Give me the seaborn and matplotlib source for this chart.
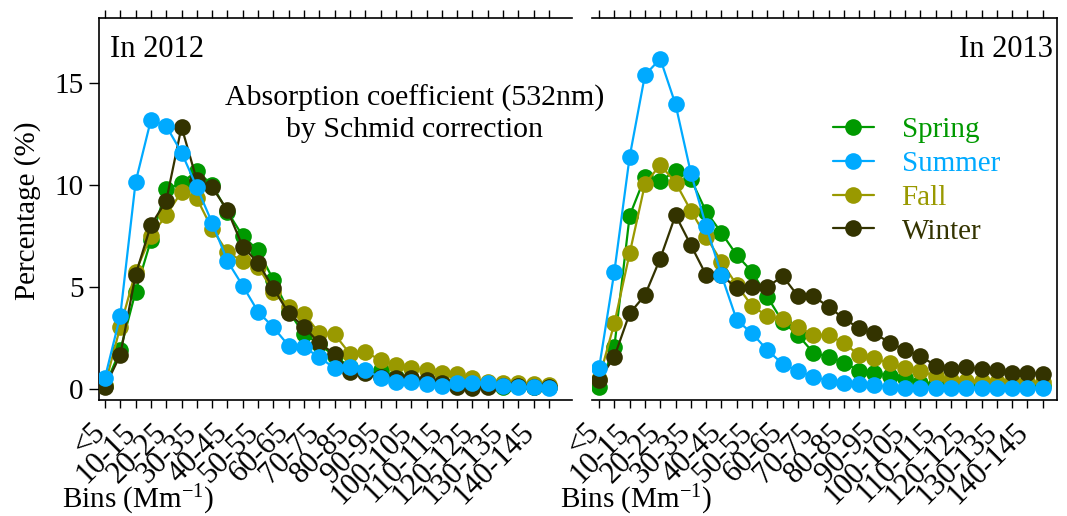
import pandas as pd
import seaborn as sns
import matplotlib.pyplot as plt
import matplotlib.transforms as mtrans
from matplotlib.lines import Line2D

# bins of absorption coefficient (Mm-1)
bins = ['<5', '5-10', '10-15', '15-20', '20-25', '25-30', '30-35', '35-40', '40-45', '45-50',
        '50-55', '55-60', '60-65', '65-70', '70-75', '75-80', '80-85', '85-90', '90-95', '95-100',
        '100-105', '105-110', '110-115', '115-120', '120-125', '125-130', '130-135', '135-140',
        '140-145', '145-150']

# 2012 distributions (%)
spring_2012 = [0.15, 1.9, 4.77, 7.3, 9.8, 10.1, 10.7, 10.0, 8.7, 7.5, 6.8, 5.35, 3.8, 2.7, 2.2,
               1.6, 1.1, 0.9, 0.93, 0.6, 0.5, 0.4, 0.3, 0.3, 0.25, 0.2, 0.12, 0.15, 0.12, 0.1]
summer_2012 = [0.55, 3.6, 10.15, 13.2, 12.9, 11.6, 9.9, 8.15, 6.27, 5.06, 3.79, 3.02, 2.12, 2.04, 1.57,
               1.01, 1.09, 0.93, 0.55, 0.33, 0.33, 0.23, 0.16, 0.28, 0.28, 0.28, 0.16, 0.11, 0.08, 0.05]
fall_2012 = [0.2, 3.05, 5.75, 7.5, 8.53, 9.67, 9.35, 7.85, 6.7, 6.27, 6.0, 4.77, 4.04, 3.7, 2.73,
             2.68, 1.72, 1.81, 1.42, 1.18, 1.01, 0.93, 0.8, 0.74, 0.52, 0.36, 0.28, 0.28, 0.25, 0.2]
winter_2012 = [0.1, 1.67, 5.6, 8.04, 9.23, 12.86, 10.24, 9.89, 8.77, 6.98, 6.19, 4.94, 3.71, 3.05, 2.24,
               1.72, 0.85, 0.8, 0.6, 0.55, 0.55, 0.45, 0.3, 0.08, 0.05, 0.12, 0.15, 0.15, 0.12, 0.1]

# 2013 distributions (%)
spring_2013 = [0.1, 2.07, 8.5, 10.4, 10.2, 10.7, 10.3, 8.7, 7.66, 6.57, 5.75, 4.52, 3.3, 2.65, 1.78,
               1.58, 1.29, 0.9, 0.8, 0.64, 0.52, 0.31, 0.25, 0.25, 0.2, 0.2, 0.2, 0.2, 0.15, 0.15]
summer_2013 = [1.01, 5.75, 11.39, 15.4, 16.2, 13.96, 10.6, 7.99, 5.59, 3.38, 2.73, 1.91, 1.23, 0.88, 0.6,
               0.41, 0.31, 0.23, 0.18, 0.11, 0.06, 0.05, 0.05, 0.05, 0.05, 0.05, 0.05, 0.05, 0.05, 0.05]
fall_2013 = [0.5, 3.22, 6.65, 10.05, 11.0, 10.13, 8.75, 7.47, 6.24, 5.1, 4.07, 3.58, 3.42, 3.05, 2.65,
             2.65, 2.24, 1.67, 1.5, 1.26, 1.05, 0.88, 0.64, 0.45, 0.4, 0.4, 0.35, 0.35, 0.35, 0.35]
winter_2013 = [0.44, 1.58, 3.71, 4.6, 6.4, 8.53, 7.06, 5.59, 5.6, 4.93, 5.0, 5.0, 5.54, 4.56, 4.56,
               4.03, 3.46, 2.97, 2.73, 2.27, 1.91, 1.62, 1.14, 0.97, 1.09, 0.97, 0.93, 0.8, 0.8, 0.74]

seasons = ['Spring', 'Summer', 'Fall', 'Winter']
colors = {'Spring': '#009900', 'Summer': '#00aaff', 'Fall': '#999900', 'Winter': '#333300'}
draw_order = ['Spring', 'Fall', 'Winter', 'Summer']

data = {
    2012: {'Spring': spring_2012, 'Summer': summer_2012, 'Fall': fall_2012, 'Winter': winter_2012},
    2013: {'Spring': spring_2013, 'Summer': summer_2013, 'Fall': fall_2013, 'Winter': winter_2013},
}

rows = []
for year, d in data.items():
    for s, vals in d.items():
        for i, v in enumerate(vals):
            rows.append({'year': year, 'season': s, 'pos': i, 'bin': bins[i], 'pct': v})
df = pd.DataFrame(rows)

sns.set_theme(style='ticks', rc={'axes.edgecolor': 'black', 'xtick.color': 'black',
                                 'ytick.color': 'black', 'text.color': 'black',
                                 'axes.labelcolor': 'black'})
plt.rcParams['font.family'] = ['Liberation Serif', 'DejaVu Serif']
plt.rcParams['mathtext.fontset'] = 'custom'
plt.rcParams['mathtext.rm'] = 'Liberation Serif'
plt.rcParams['mathtext.default'] = 'regular'

fs = 21
fig = plt.figure(figsize=(10.67, 5.16), dpi=100)
ax1 = fig.add_axes([99 / 1067, 116 / 516, 473 / 1067, 382 / 516])
ax2 = fig.add_axes([592 / 1067, 116 / 516, 465 / 1067, 382 / 516])

# nudge rotated bin labels so their ends sit just under the ticks
label_shift = mtrans.ScaledTranslation(-4 / 100, -3 / 100, fig.dpi_scale_trans)

for ax, year in [(ax1, 2012), (ax2, 2013)]:
    ax.patch.set_visible(False)
    sub = df[df['year'] == year]
    for z, s in enumerate(draw_order):
        sns.lineplot(data=sub[sub['season'] == s], x='pos', y='pct', ax=ax,
                     color=colors[s], marker='o', markersize=12, markeredgewidth=0,
                     linewidth=1.6, estimator=None, sort=False, legend=False, zorder=3 + z)
    ax.set_ylim(-0.54, 18.2)
    ax.set_xticks(range(len(bins)))
    ax.set_xticklabels([b if i % 2 == 0 else '' for i, b in enumerate(bins)],
                       rotation=45, ha='right', va='center', rotation_mode='anchor')
    ax.tick_params(axis='x', direction='out', length=6, width=1, top=True, bottom=True,
                   labelsize=22, pad=12)
    for lab in ax.get_xticklabels():
        lab.set_transform(lab.get_transform() + label_shift)
    ax.set_xlabel('')
    ax.set_ylabel('')
    for sp in ax.spines.values():
        sp.set_linewidth(1.2)

ax1.set_xlim(-0.39, 30.5)
ax2.set_xlim(-0.46, 29.93)
ax1.spines['right'].set_visible(False)
ax2.spines['left'].set_visible(False)
ax1.set_yticks([0, 5, 10, 15])
ax1.tick_params(axis='y', direction='out', length=7, width=1, labelsize=fs, pad=4)
ax2.tick_params(axis='y', left=False, labelleft=False)

ax1.text(0.023, 0.955, 'In 2012', transform=ax1.transAxes, ha='left', va='top', fontsize=22)
ax2.text(0.991, 0.955, 'In 2013', transform=ax2.transAxes, ha='right', va='top', fontsize=22)
ax1.text(0.668, 0.826, 'Absorption coefficient (532nm)\nby Schmid correction',
         transform=ax1.transAxes, ha='center', va='top', fontsize=21.5, linespacing=1.25,
         clip_on=False, zorder=10)

handles = [Line2D([], [], color=colors[s], marker='o', markersize=12, markeredgewidth=0,
                  linewidth=1.6) for s in seasons]
leg = ax2.legend(handles, seasons, loc='upper left', bbox_to_anchor=(833 / 1067, 1 - 117 / 516),
                 bbox_transform=fig.transFigure, frameon=False, fontsize=fs, handlelength=1.4,
                 handletextpad=0.95, labelspacing=0.25, borderpad=0, borderaxespad=0)
for t, s in zip(leg.get_texts(), seasons):
    t.set_color(colors[s])

fig.text(28 / 1067, 1 - 211 / 516, 'Percentage (%)', rotation=90, ha='center', va='center',
         fontsize=fs)
fig.text(62 / 1067, 1 - 508 / 516, 'Bins (Mm$^{-1}$)', ha='left', va='baseline', fontsize=fs)
fig.text(560 / 1067, 1 - 508 / 516, 'Bins (Mm$^{-1}$)', ha='left', va='baseline', fontsize=fs)

fig.savefig('out.png', dpi=100)
